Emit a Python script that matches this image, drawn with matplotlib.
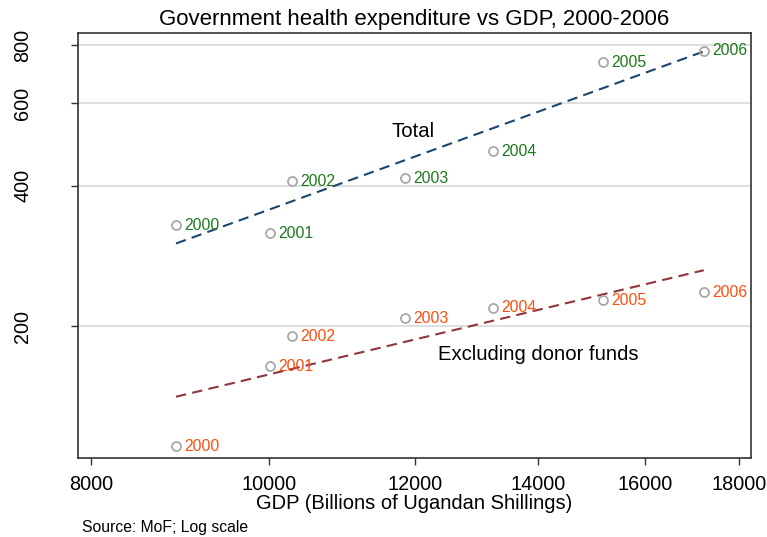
import numpy as np
import matplotlib.pyplot as plt
from matplotlib.ticker import FixedLocator, NullLocator

plt.rcParams['font.family'] = ['Liberation Sans', 'DejaVu Sans']

years = ['2000', '2001', '2002', '2003', '2004', '2005', '2006']
gdp = [8898, 10010, 10288, 11852, 13232, 15183, 17226]
total = [329, 316, 409, 415, 474, 735, 777]
excl_donor = [110.6, 164, 190, 208, 219, 227, 236.5]

xticks = [8000, 10000, 12000, 14000, 16000, 18000]
yticks = [200, 400, 600, 800]

fig = plt.figure(figsize=(7.67, 5.37), dpi=100)
ax = fig.add_axes([0.1017, 0.1471, 0.8774, 0.7914])

ax.set_xscale('log')
ax.set_yscale('log')
ax.set_xlim(7871, 18274)
ax.set_ylim(104.3, 849)

for yt in yticks:
    ax.axhline(yt, color='#dcdcdc', linewidth=1.3, zorder=0)

lx = np.log(gdp)
xs = np.array([min(gdp), max(gdp)])
for series, lcol, tcol in [(total, '#1a476f', '#1a7a1a'),
                           (excl_donor, '#90353b', '#ff4d0d')]:
    b, a = np.polyfit(lx, np.log(series), 1)
    ax.plot(xs, np.exp(a + b * np.log(xs)), linestyle=(0, (5, 3)),
            color=lcol, linewidth=1.5, zorder=2)
    ax.plot(gdp, series, 'o', markersize=6.5, markerfacecolor='none',
            markeredgecolor='#a8a8a8', markeredgewidth=1.3, zorder=3)
    for x, y, lab in zip(gdp, series, years):
        ax.annotate(lab, (x, y), xytext=(6, 0), textcoords='offset points',
                    va='center', ha='left', color=tcol, fontsize=11.3, zorder=4)

ax.text(11660, 523, 'Total', fontsize=14.6, ha='left', va='center')
ax.text(12351, 174, 'Excluding donor funds', fontsize=14.6, ha='left', va='center')

ax.xaxis.set_major_locator(FixedLocator(xticks))
ax.xaxis.set_minor_locator(NullLocator())
ax.set_xticklabels([str(t) for t in xticks], fontsize=14.3)
ax.yaxis.set_major_locator(FixedLocator(yticks))
ax.yaxis.set_minor_locator(NullLocator())
ax.set_yticklabels([str(t) for t in yticks], fontsize=14.3, rotation=90, va='center')
ax.tick_params(length=5, width=1, color='#333333')
ax.tick_params(axis='x', pad=7)
ax.tick_params(axis='y', pad=28)

for s in ax.spines.values():
    s.set_color('#333333')
    s.set_linewidth(1.2)

ax.set_xlabel('GDP (Billions of Ugandan Shillings)', fontsize=14.5, labelpad=0)
ax.set_title('Government health expenditure vs GDP, 2000-2006', fontsize=16, pad=6)
fig.text(0.107, 0.0186, 'Source: MoF; Log scale', fontsize=11.3, va='center')

plt.savefig('out.png', dpi=100)
